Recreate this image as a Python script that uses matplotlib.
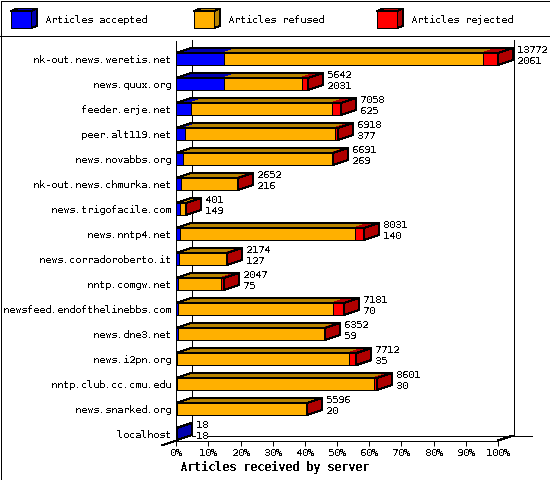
import numpy as np
import matplotlib
matplotlib.use('Agg')
import matplotlib.pyplot as plt
from matplotlib.patches import Polygon

plt.rcParams['font.family'] = 'DejaVu Sans Mono'
plt.rcParams['text.antialiased'] = False
plt.rcParams['text.hinting'] = 'native'
plt.rcParams['text.hinting_factor'] = 1

servers = ['nk-out.news.weretis.net', 'news.quux.org', 'feeder.erje.net', 'peer.alt119.net',
           'news.novabbs.org', 'nk-out.news.chmurka.net', 'news.trigofacile.com', 'news.nntp4.net',
           'news.corradoroberto.it', 'nntp.comgw.net', 'newsfeed.endofthelinebbs.com', 'news.dne3.net',
           'news.i2pn.org', 'nntp.club.cc.cmu.edu', 'news.snarked.org', 'localhost']
received = [13772, 5642, 7058, 6918, 6691, 2652, 401, 8031, 2174, 2047, 7181, 6352, 7712, 8601, 5596, 18]
accepted = [2061, 2031, 625, 377, 269, 216, 149, 140, 127, 75, 70, 59, 35, 30, 20, 18]
# rejected has no printed number, read from the width of the red part
rejected = [640, 280, 386, 105, 30, 60, 3, 380, 60, 150, 470, 15, 320, 130, 3, 0]
legend_names = ['Articles accepted', 'Articles refused', 'Articles rejected']

front = ['#0000ff', '#ffb000', '#ff0000']
dark = ['#0000b0', '#b88400', '#b00000']
lw = 0.72

fig = plt.figure(figsize=(5.5, 4.8), dpi=100)

# whole figure in pixels, for the frame, legend and the back of the box
bg = fig.add_axes([0, 0, 1, 1], zorder=0)
bg.set_xlim(0, 550)
bg.set_ylim(480, 0)
bg.axis('off')


def line(xs, ys):
    bg.plot(xs, ys, color='k', lw=lw, antialiased=False, solid_capstyle='butt')


line([0.5, 549.5, 549.5, 0.5, 0.5], [0.5, 0.5, 479.5, 479.5, 0.5])
line([0, 550], [35.5, 35.5])
line([191.5, 191.5], [40, 435])
line([513.5, 513.5], [40, 435])
line([192, 532], [435.5, 435.5])
line([162, 176], [445.5, 440.5])
line([498, 513], [440.5, 435.5])

for i, name in enumerate(legend_names):
    x0 = 11 + 183 * i
    bg.add_patch(Polygon([(x0 + 20, 11), (x0 + 26, 8.5), (x0 + 26, 26), (x0 + 20, 28)],
                         fc=dark[i], ec='k', lw=lw, antialiased=False))
    bg.add_patch(Polygon([(x0, 11), (x0 + 6, 8.5), (x0 + 26, 8.5), (x0 + 20, 11)],
                         fc=dark[i], ec='k', lw=lw, antialiased=False))
    bg.add_patch(Polygon([(x0, 11), (x0 + 20, 11), (x0 + 20, 28), (x0, 28)],
                         fc=front[i], ec='k', lw=lw, antialiased=False))
    bg.text(x0 + 34, 20, name, fontsize=7.2, va='center', ha='left')

# the plot itself, front plane of the box
ax = fig.add_axes([176.3 / 550, 1 - 440.5 / 480, 321.7 / 550, 400 / 480], zorder=1)
ax.patch.set_alpha(0)
ax.set_xlim(0, 100)
ax.set_ylim(15.26, -0.74)
for s in ['top', 'right']:
    ax.spines[s].set_visible(False)
for s in ['left', 'bottom']:
    ax.spines[s].set_linewidth(lw)
    ax.spines[s].set_antialiased(False)

rows = np.arange(len(servers))
total = np.array(received, dtype=float)
acc = np.array(accepted, dtype=float)
rej = np.array(rejected, dtype=float)
ref = total - acc - rej
scale = 100.0 / total.max()
h = 0.48
dx = 15 / 3.217
dy = -0.2

for r in rows:
    y1 = r - h / 2
    y2 = r + h / 2
    left = 0.0
    parts = [acc[r] * scale, ref[r] * scale, rej[r] * scale]
    last = 0
    for j, w in enumerate(parts):
        if w <= 0:
            continue
        last = j
        ax.add_patch(Polygon([(left, y1), (left + dx, y1 + dy), (left + w + dx, y1 + dy), (left + w, y1)],
                             fc=dark[j], ec=dark[j], lw=lw, antialiased=False, clip_on=False, zorder=2))
        ax.barh(r, w, h, left=left, color=front[j], edgecolor='k', linewidth=lw,
                antialiased=False, clip_on=False, zorder=3)
        left += w
    ax.add_patch(Polygon([(0, y1), (dx, y1 + dy), (left + dx, y1 + dy), (left, y1)],
                         fc='none', ec='k', lw=lw, antialiased=False, clip_on=False, zorder=3))
    ax.add_patch(Polygon([(left, y1), (left + dx, y1 + dy), (left + dx, y2 + dy), (left, y2)],
                         fc=dark[last], ec='k', lw=lw, antialiased=False, clip_on=False, zorder=4))
    tx = left + dx + 4 / 3.217
    ax.text(tx, r - 0.36, str(received[r]), fontsize=7.2, va='center', ha='left', clip_on=False,
            zorder=5, bbox=dict(fc='w', ec='none', pad=0))
    ax.text(tx, r + 0.08, str(accepted[r]), fontsize=7.2, va='center', ha='left', clip_on=False,
            zorder=5, bbox=dict(fc='w', ec='none', pad=0))

ax.set_yticks(rows)
ax.set_yticklabels(servers, fontsize=7.2)
ax.tick_params(axis='y', length=0, pad=3.5)
ax.set_xticks(np.arange(0, 101, 10))
ax.set_xticklabels(['%d%%' % p for p in range(0, 101, 10)], fontsize=7.2)
ax.tick_params(axis='x', length=3.6, width=lw, pad=2)
ax.set_xlabel('Articles received by server', fontsize=8.4, fontweight='bold')
ax.xaxis.set_label_coords(97.7 / 321.7, -26.5 / 400, transform=ax.transAxes)
ax.xaxis.label.set_va('center')

plt.savefig('out.png', dpi=100)
